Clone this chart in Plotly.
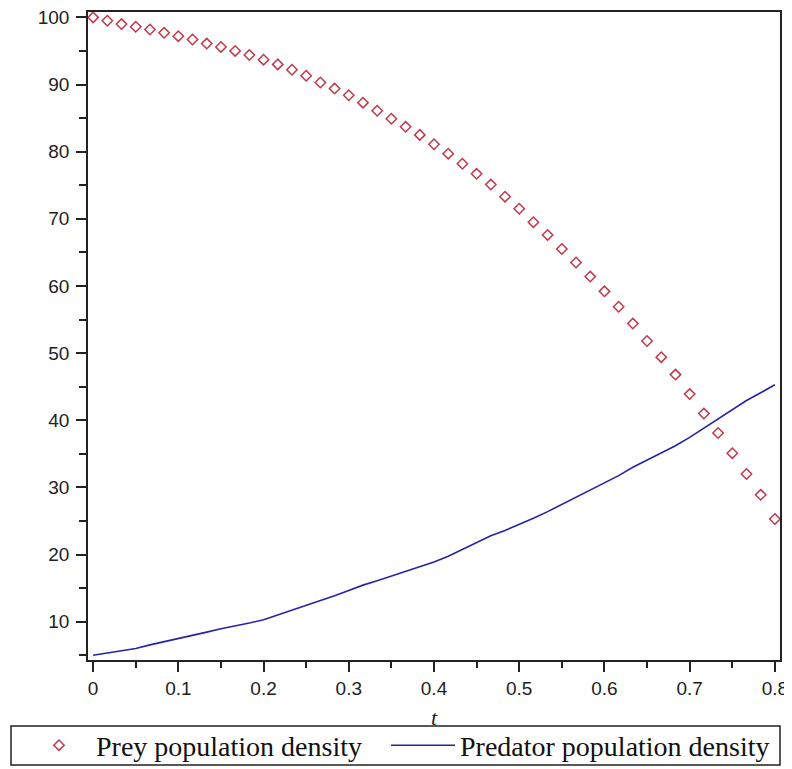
import plotly.graph_objects as go

# time grid (49 points, step 1/60)
t_values = [k / 60 for k in range(49)]

prey_density = [100.0, 99.5, 99.0, 98.6, 98.2, 97.7, 97.2, 96.7, 96.1, 95.6,
                95.0, 94.4, 93.7, 93.0, 92.2, 91.3, 90.3, 89.4, 88.4, 87.3,
                86.1, 84.9, 83.7, 82.5, 81.1, 79.7, 78.2, 76.7, 75.1, 73.3,
                71.5, 69.5, 67.6, 65.5, 63.5, 61.4, 59.2, 56.9, 54.4, 51.8,
                49.4, 46.8, 43.9, 41.0, 38.1, 35.1, 32.0, 28.9, 25.3]

predator_density = [5.0, 5.35, 5.7, 6.0, 6.55, 7.0, 7.5, 7.95, 8.45, 8.94,
                    9.35, 9.8, 10.3, 11.0, 11.75, 12.4, 13.05, 13.85, 14.65, 15.45,
                    16.1, 16.8, 17.45, 18.15, 18.9, 19.75, 20.8, 21.8, 22.8, 23.6,
                    24.45, 25.4, 26.4, 27.45, 28.5, 29.6, 30.7, 31.75, 33.0, 34.05,
                    35.1, 36.2, 37.45, 38.8, 40.2, 41.6, 42.94, 44.1, 45.3]

x_ticks = [0, 0.1, 0.2, 0.3, 0.4, 0.5, 0.6, 0.7, 0.8]
x_tick_labels = ["0", "0.1", "0.2", "0.3", "0.4", "0.5", "0.6", "0.7", "0.8"]
y_ticks = [10, 20, 30, 40, 50, 60, 70, 80, 90, 100]
y_tick_labels = [str(v) for v in y_ticks]

series_names = ["Prey population density", "Predator population density"]

tick_font = dict(family="Liberation Sans, Arial, sans-serif", size=19, color="#222222")
serif = "Liberation Serif, Times New Roman, serif"

fig = go.Figure()
fig.add_trace(go.Scatter(
    x=t_values, y=prey_density, mode="markers", name=series_names[0], legend="legend",
    marker=dict(symbol="diamond-open", size=8, color="#c0394a", line=dict(width=1.5, color="#c0394a")),
))
fig.add_trace(go.Scatter(
    x=t_values, y=predator_density, mode="lines", name=series_names[1], legend="legend2",
    line=dict(color="#2424a6", width=1.6),
))

axis_common = dict(
    showline=True, linecolor="#222222", linewidth=1.5, mirror=True,
    showgrid=False, zeroline=False, ticks="outside", ticklen=10, tickwidth=1.5,
    tickcolor="#222222", tickfont=tick_font, ticklabeloverflow="allow",
)

fig.update_xaxes(
    range=[-0.006, 0.806], tickvals=x_ticks, ticktext=x_tick_labels,
    minor=dict(dtick=0.05, ticks="outside", ticklen=6, tickwidth=1.5, tickcolor="#222222"),
    title=dict(text="<i>t</i>", font=dict(family=serif, size=22, color="#222222"), standoff=12),
    **axis_common,
)
fig.update_yaxes(
    range=[4.3, 100.8], tickvals=y_ticks, ticktext=y_tick_labels,
    minor=dict(dtick=5, ticks="outside", ticklen=7, tickwidth=1.5, tickcolor="#222222"),
    ticklabelstandoff=3,
    **axis_common,
)

# legend frame (spans the width below the plot, as in the original)
fig.add_shape(type="rect", xref="paper", yref="paper",
              x0=(11 - 88) / 692, x1=1.0, y0=(660 - 765) / 648, y1=(660 - 726) / 648,
              line=dict(color="#222222", width=1.5), fillcolor="rgba(0,0,0,0)")

legend_common = dict(
    orientation="h", xanchor="left", y=(660 - 745.5) / 648, yanchor="middle",
    font=dict(family=serif, size=28, color="#111111"),
    borderwidth=0, bgcolor="rgba(0,0,0,0)", itemwidth=64,
)

# the page body has an 8px margin, so the figure is 8px smaller on each side
fig.update_layout(
    width=784, height=761,
    margin=dict(l=80, r=12, t=4, b=109, autoexpand=False),
    paper_bgcolor="white", plot_bgcolor="white",
    showlegend=True,
    legend=dict(x=(22 - 88) / 692, **legend_common),
    legend2=dict(x=(386 - 88) / 692, **legend_common),
)

fig.write_html("out.html")
